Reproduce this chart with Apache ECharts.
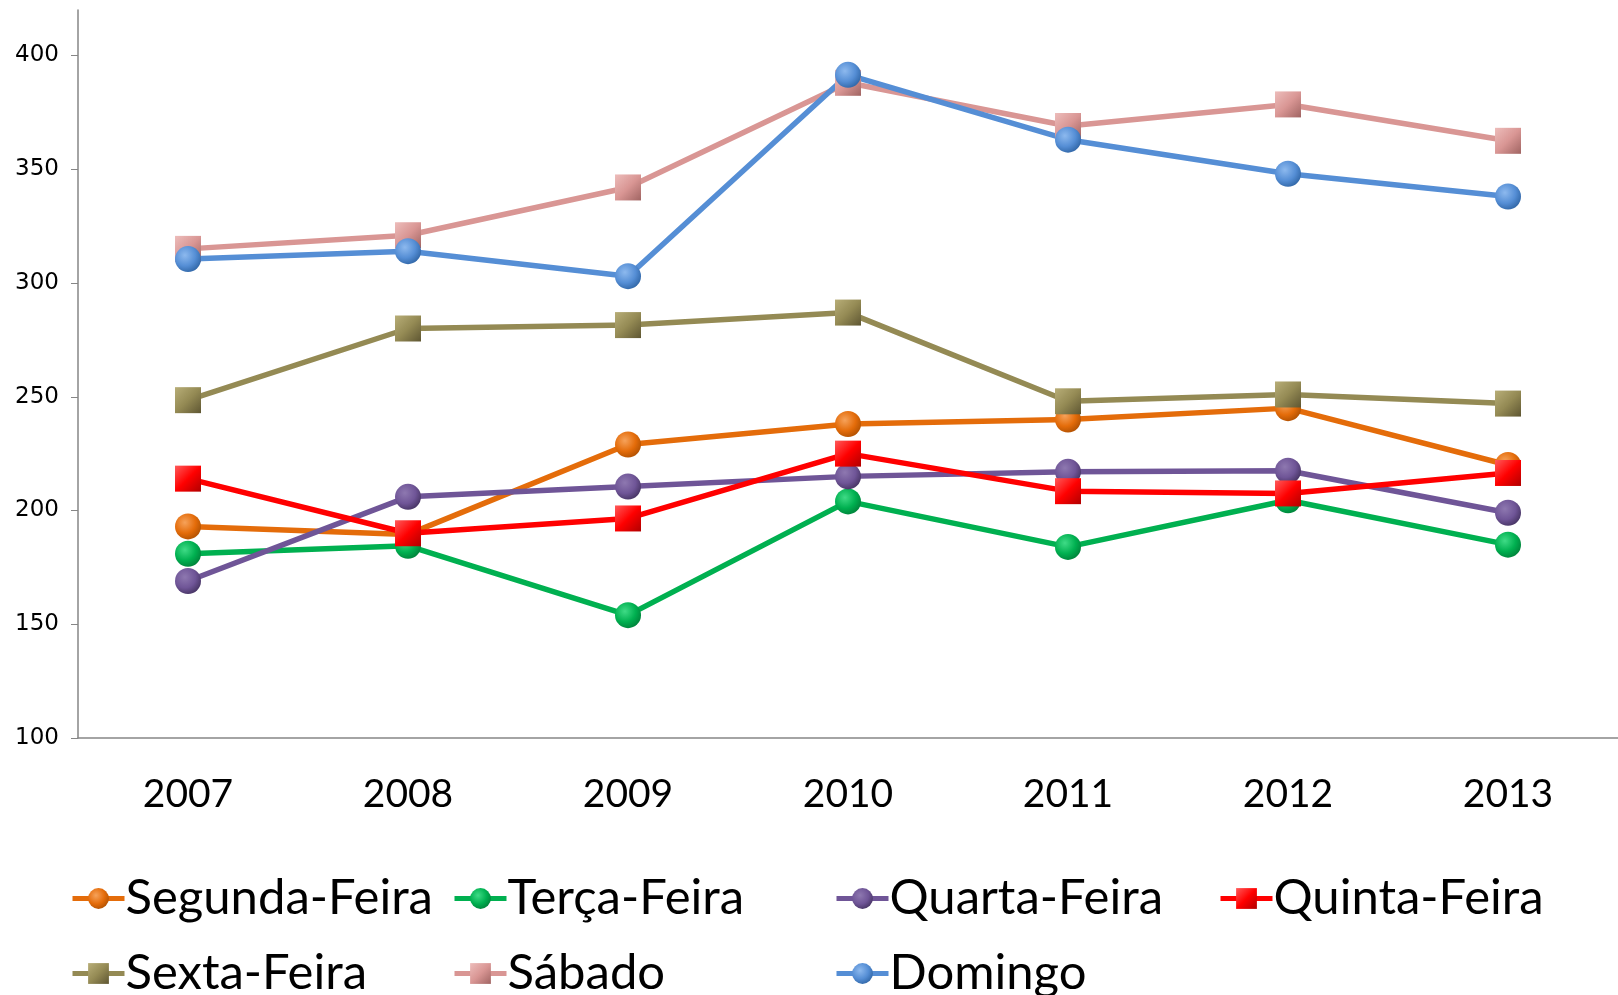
<!DOCTYPE html>
<html>
<head>
<meta charset="utf-8">
<script src="https://cdn.jsdelivr.net/npm/echarts@6/dist/echarts.min.js"></script>
<style>
  html, body { margin: 0; padding: 0; background: #fff; }
  #chart { width: 1618px; height: 995px; }
</style>
</head>
<body>
<div id="chart"></div>
<script>
var years = ['2007', '2008', '2009', '2010', '2011', '2012', '2013'];
var yTicks = [100, 150, 200, 250, 300, 350, 400];

var segunda = [193, 189.5, 229, 238, 240, 245, 220];
var terca = [181, 184.5, 154, 204, 184, 204.5, 185];
var quarta = [169, 206, 210.5, 215, 217, 217.5, 199];
var quinta = [214, 190, 196.5, 225, 208.5, 207.5, 216.5];
var sexta = [248.5, 280, 281.5, 287, 248, 251, 247];
var sabado = [315, 321, 342, 388, 369, 378.5, 362.5];
var domingo = [310.5, 314, 303, 391.5, 363, 348, 338];

// nome, dados, cor da linha, cor clara, cor escura, simbolo
var seriesDef = [
    ['Segunda-Feira', segunda, '#E46C0A', '#F6A25A', '#A84C00', 'circle'],
    ['Terça-Feira', terca, '#00B050', '#3FDB86', '#007A36', 'circle'],
    ['Quarta-Feira', quarta, '#6F5597', '#8E78B0', '#3F2E5A', 'circle'],
    ['Quinta-Feira', quinta, '#FF0000', '#FF5A5A', '#B00000', 'rect'],
    ['Sexta-Feira', sexta, '#948A54', '#B8AE78', '#5E5632', 'rect'],
    ['Sábado', sabado, '#D99694', '#EDBDBB', '#A06462', 'rect'],
    ['Domingo', domingo, '#558ED5', '#8DB9EE', '#2A5F9E', 'circle']
];

// posicao de cada item da legenda (coluna, linha)
var legendPos = [[70, 0], [452, 0], [834, 0], [1218, 0], [70, 1], [452, 1], [834, 1]];

function markerColor(s) {
    if (s[5] == 'circle') {
        return {
            type: 'radial', x: 0.38, y: 0.35, r: 0.75,
            colorStops: [{offset: 0, color: s[3]}, {offset: 0.55, color: s[2]}, {offset: 1, color: s[4]}]
        };
    }
    return {
        type: 'linear', x: 0, y: 0, x2: 1, y2: 1,
        colorStops: [{offset: 0, color: s[3]}, {offset: 0.5, color: s[2]}, {offset: 1, color: s[4]}]
    };
}

var series = seriesDef.map(function (s) {
    return {
        name: s[0],
        type: 'line',
        data: s[1],
        symbol: s[5],
        symbolSize: s[5] == 'circle' ? 26 : 26,
        lineStyle: {color: s[2], width: 5.5},
        itemStyle: {color: markerColor(s), borderWidth: 0},
        emphasis: {disabled: true}
    };
});

var legends = seriesDef.map(function (s, i) {
    return {
        data: [s[0]],
        left: legendPos[i][0],
        top: 874 + legendPos[i][1] * 75,
        padding: 0,
        itemWidth: 52,
        itemHeight: 26,
        lineStyle: {width: 5},
        textStyle: {fontFamily: 'Lato', fontSize: 49, color: '#000', padding: [0, 0, 0, -4]}
    };
});

var myChart = echarts.init(document.getElementById('chart'));
var option = {
    animation: false,
    backgroundColor: '#fff',
    legend: legends,
    grid: {left: 78, right: -11, top: 10, bottom: 257, containLabel: false},
    xAxis: {
        type: 'category',
        data: years,
        boundaryGap: true,
        axisLine: {lineStyle: {color: '#868686', width: 1.5}},
        axisTick: {show: false},
        axisLabel: {fontFamily: 'Lato', fontSize: 39, color: '#000', margin: 37}
    },
    yAxis: {
        type: 'value',
        min: 100,
        max: 420,
        interval: 50,
        splitLine: {show: false},
        axisLine: {show: true, lineStyle: {color: '#868686', width: 1.5}},
        axisTick: {show: true, length: 7, lineStyle: {color: '#868686'}, customValues: yTicks},
        axisLabel: {fontFamily: 'DejaVu Sans', fontSize: 23, color: '#000', margin: 19, customValues: yTicks}
    },
    series: series
};
myChart.setOption(option);
</script>
</body>
</html>
